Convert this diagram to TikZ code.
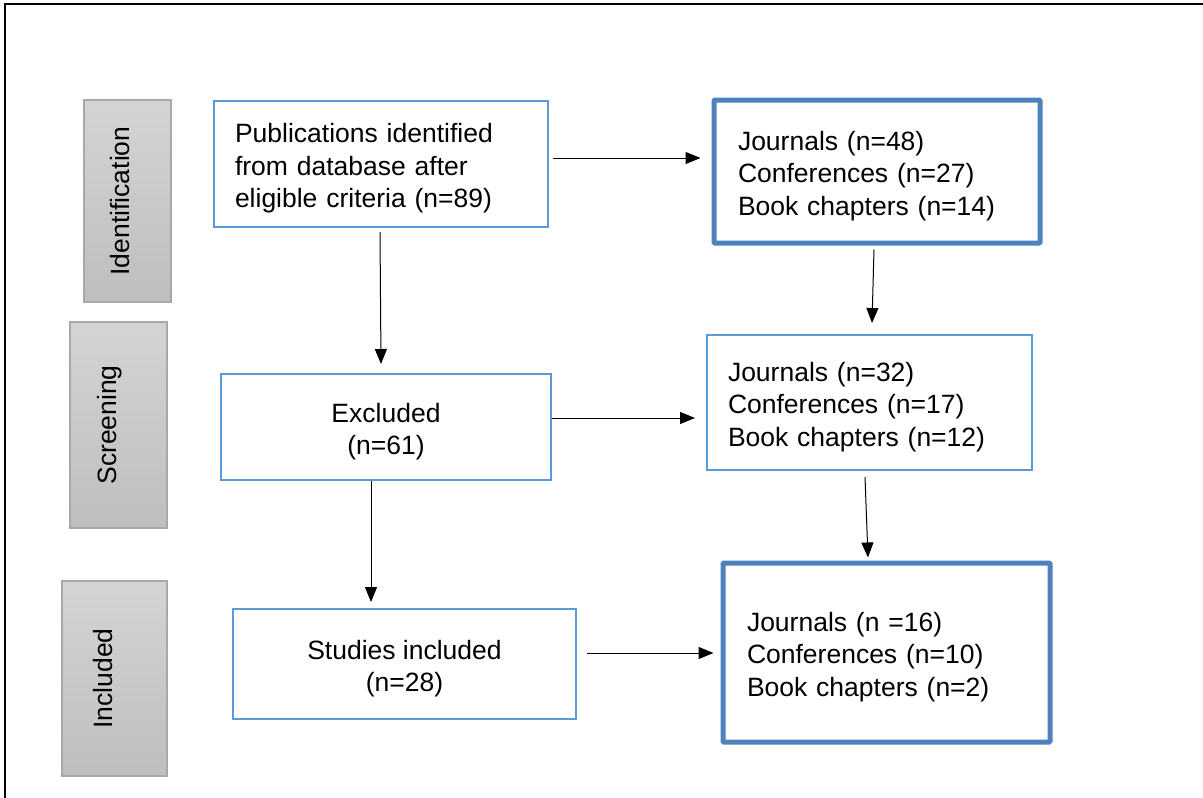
\documentclass[tikz,border=0pt]{standalone}
\usepackage{fontspec}
\setmainfont{Liberation Sans}
\usetikzlibrary{arrows.meta}
\definecolor{thinblue}{HTML}{5B9BD5}
\definecolor{thickblue}{HTML}{4F81BD}
\definecolor{graytop}{HTML}{D4D4D4}
\definecolor{graybot}{HTML}{BEBEBE}
\definecolor{grayline}{HTML}{A8A8A8}
\newcommand\toppad{\rule{0pt}{28pt}}
\tikzset{
  thinbox/.style={draw=thinblue, line width=2pt, fill=white, inner sep=0pt},
  thickbox/.style={draw=thickblue, line width=5pt, fill=white, inner sep=0pt, rounded corners=1pt},
  phase/.style={draw=grayline, line width=1.5pt, top color=graytop, bottom color=graybot, inner sep=0pt},
  phasetext/.style={rotate=90, font=\fontsize{26.5}{32}\selectfont, inner sep=0pt},
  txt/.style={font=\fontsize{26.5}{32.3}\selectfont},
  arr/.style={line width=1pt, -{Triangle[length=15pt,width=12pt]}}
}
\begin{document}
\begin{tikzpicture}[x=1pt,y=-1pt]
\useasboundingbox (0,0) rectangle (1203,798);
% outer frame
\draw[line width=2pt] (5,798) -- (5,4) -- (1203,4);

% phase boxes
\node[phase, minimum width=87pt, minimum height=202pt] (p1) at (127.5,201) {};
\node[phasetext] (p1t) at ([xshift=-7pt]p1.center) {Identification};
\node[phase, minimum width=97pt, minimum height=206pt] (p2) at (118.5,425) {};
\node[phasetext] (p2t) at ([xshift=-9pt]p2.center) {Screening};
\node[phase, minimum width=105pt, minimum height=195pt] (p3) at (114.5,678.5) {};
\node[phasetext] (p3t) at ([xshift=-11pt]p3.center) {Included};

% left column
\node[thinbox, txt, minimum width=334pt, minimum height=126pt, text width=292pt, align=left] (pub) at (381,164)
  {\toppad Publications identified\\from database after\\eligible criteria (n=89)};
\node[thinbox, txt, minimum width=330pt, minimum height=106pt, align=center] (exc) at (386,427)
  {\toppad Excluded\\(n=61)};
\node[thinbox, txt, minimum width=343pt, minimum height=110pt, align=center] (stu) at (404.5,664)
  {\toppad Studies included\\(n=28)};

% right column
\node[thickbox, txt, minimum width=326pt, minimum height=143pt, text width=278pt, align=left] (r1) at (877,171.5)
  {\toppad Journals (n=48)\\Conferences (n=27)\\Book chapters (n=14)};
\node[thinbox, txt, minimum width=325pt, minimum height=135pt, text width=283pt, align=left] (r2) at (869.5,402.5)
  {\toppad Journals (n=32)\\Conferences (n=17)\\Book chapters (n=12)};
\node[thickbox, txt, minimum width=327pt, minimum height=179pt, text width=279pt, align=left] (r3) at (886.5,652.5)
  {\toppad Journals (n =16)\\Conferences (n=10)\\Book chapters (n=2)};

% connectors
\draw[arr] ([xshift=4pt,yshift=6pt]pub.east) -- ([xshift=-11pt,yshift=13.5pt]r1.west);
\draw[arr] ([xshift=-3pt,yshift=-4pt]r1.south) -- ([xshift=2.5pt,yshift=11pt]r2.north);
\draw[arr] ([xshift=-1pt,yshift=-4pt]pub.south) -- ([xshift=-5pt,yshift=9pt]exc.north);
\draw[arr] ([yshift=9pt]exc.east) -- ([xshift=-11pt,yshift=-15.5pt]r2.west);
\draw[arr] ([xshift=-4.5pt,yshift=-6pt]r2.south) -- ([xshift=-18.5pt,yshift=3pt]r3.north);
\draw[arr] ([xshift=-15pt]exc.south) -- ([xshift=-33.5pt,yshift=6pt]stu.north);
\draw[arr] ([xshift=10pt,yshift=11pt]stu.east) -- ([xshift=-7pt,yshift=-0.5pt]r3.west);
\end{tikzpicture}
\end{document}
